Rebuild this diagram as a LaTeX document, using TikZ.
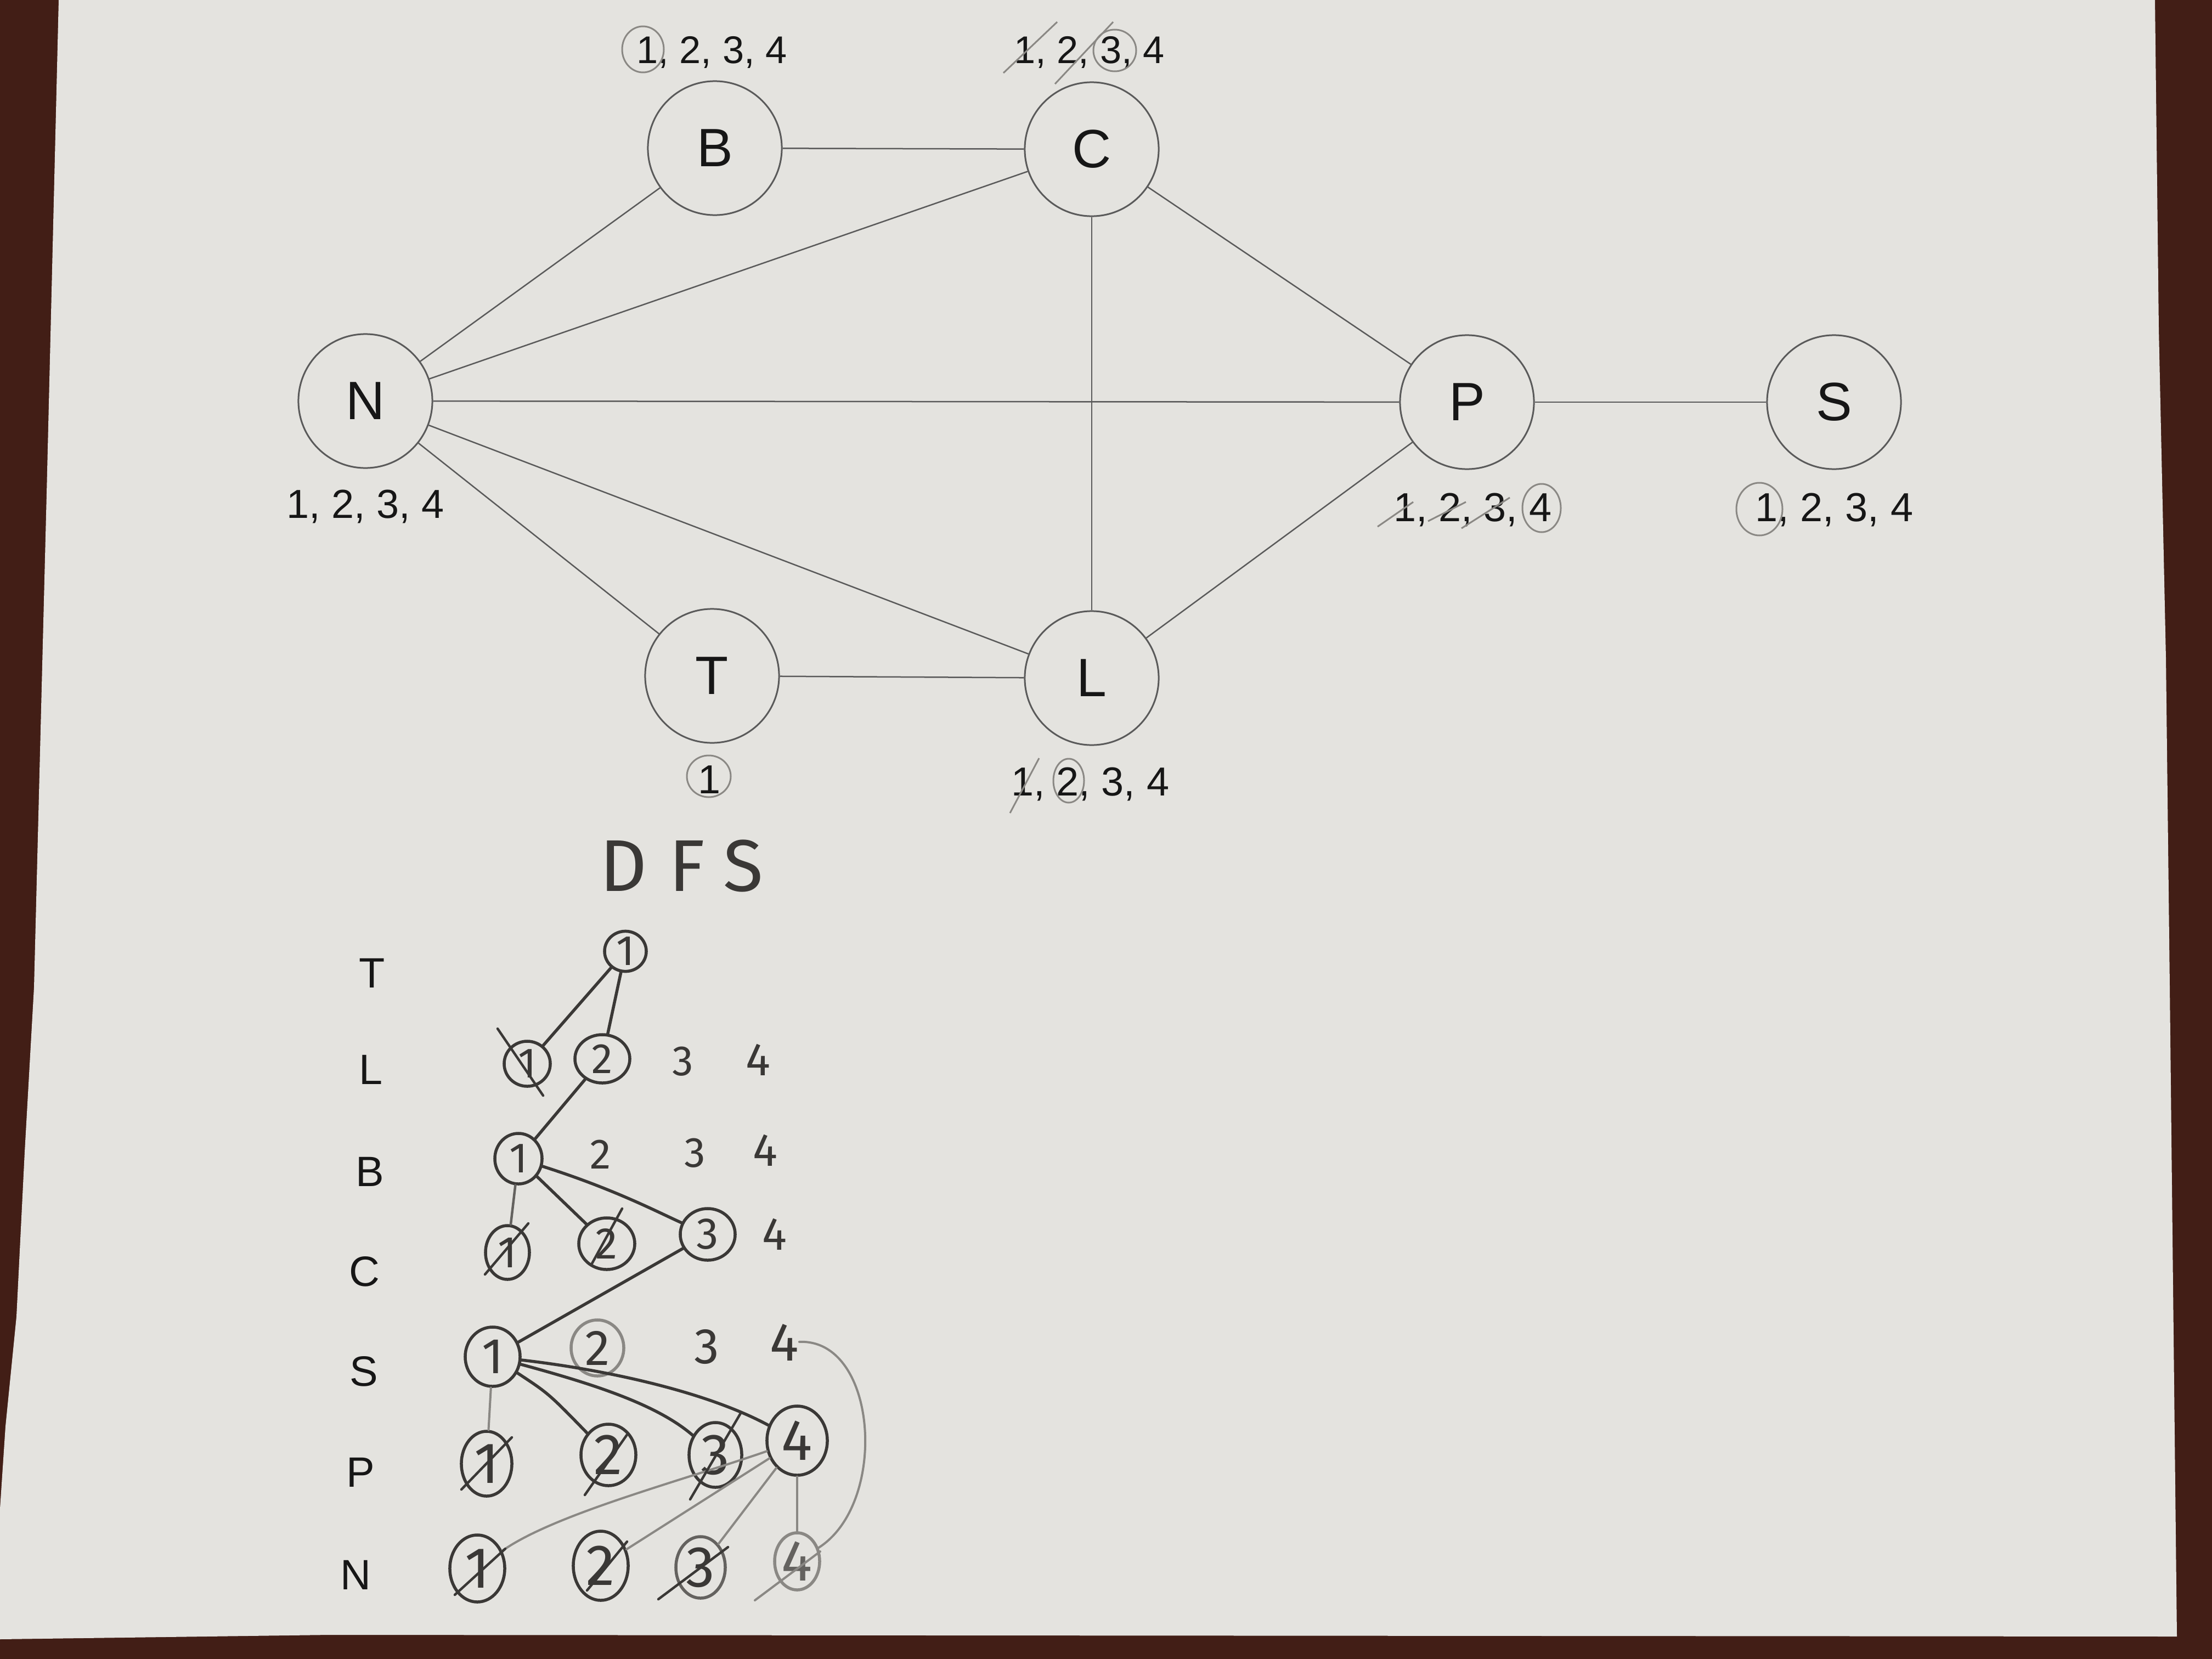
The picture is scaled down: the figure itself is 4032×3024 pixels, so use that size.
\documentclass[tikz,border=0pt]{standalone}
\usepackage{fontspec}
\setmainfont{Liberation Sans}
\newfontfamily\hand{Fira Sans}
\usetikzlibrary{shapes.geometric,calc}
\definecolor{paper}{RGB}{228,227,223}
\definecolor{bgdark}{RGB}{66,30,22}
\definecolor{ink}{RGB}{22,22,22}
\definecolor{gline}{RGB}{90,90,90}
\definecolor{pen}{RGB}{58,56,54}
\definecolor{penmid}{RGB}{100,98,95}
\definecolor{penlight}{RGB}{138,136,132}
\begin{document}
\begin{tikzpicture}[x=0.01cm,y=-0.01cm,
  gnode/.style={circle,draw=gline,line width=0.03cm,minimum size=2.44cm,inner sep=0pt,text=ink,font=\fontsize{28}{28}\selectfont},
  gedge/.style={draw=gline,line width=0.025cm},
  glab/.style={inner sep=0pt,anchor=base west,text=ink,font=\fontsize{21}{21}\selectfont},
  glabs/.style={inner sep=0pt,anchor=base west,text=ink,font=\fontsize{20}{20}\selectfont},
  ann/.style={draw=penlight,line width=0.03cm},
  rowlab/.style={inner sep=0pt,text=ink,font=\fontsize{22}{22}\selectfont},
  hn/.style 2 args={ellipse,draw=pen,line width=0.055cm,inner sep=0pt,text=pen,minimum width=#1,minimum height=#2},
  hf/.style={font=\hand\fontsize{#1}{#1}\selectfont},
  hd/.style={inner sep=0pt,text=pen},
  pline/.style={draw=pen,line width=0.055cm,line cap=round},
  mline/.style={draw=penmid,line width=0.045cm,line cap=round},
  lline/.style={draw=penlight,line width=0.04cm,line cap=round},
  xline/.style={draw=pen,line width=0.045cm,line cap=round},
]
\useasboundingbox (0,0) rectangle (4032,3024);
% background and paper
\fill[bgdark] (0,0) rectangle (4032,3024);
\fill[paper] (107,0) -- (3928,0) -- (3935,600) -- (3948,1200) -- (3955,1800) -- (3968,2983)
  -- (600,2980) -- (0,2988) -- (0,2750) -- (10,2600) -- (30,2400) -- (45,2100) -- (62,1800) -- (85,900) -- cycle;

% ---------------- printed graph ----------------
\node[gnode] (B) at (1303,270) {B};
\node[gnode] (C) at (1990,272) {C};
\node[gnode] (N) at (666,731) {N};
\node[gnode] (P) at (2674,733) {P};
\node[gnode] (S) at (3343,733) {S};
\node[gnode] (T) at (1298,1232) {T};
\node[gnode] (L) at (1990,1236) {L};

\draw[gedge] (B) -- (C);
\draw[gedge] (B) -- (N);
\draw[gedge] (C) -- (N);
\draw[gedge] (C) -- (P);
\draw[gedge] (C) -- (L);
\draw[gedge] (N) -- (P);
\draw[gedge] (P) -- (S);
\draw[gedge] (N) -- (T);
\draw[gedge] (N) -- (L);
\draw[gedge] (T) -- (L);
\draw[gedge] (L) -- (P);

% labels
\node[glabs] (Blab) at (1160,115) {1, 2, 3, 4};
\node[glabs] (Clab) at (1848,115) {1, 2, 3, 4};
\node[glab] (Nlab) at (522,944) {1, 2, 3, 4};
\node[glab] (Plab) at (2540,950) {1, 2, 3, 4};
\node[glab] (Slab) at (3199,950) {1, 2, 3, 4};
\node[glab] (Tlab) at (1272,1446) {1};
\node[glab] (Llab) at (1843,1450) {1, 2, 3, 4};

% pencil marks on labels
\draw[ann] ($(Blab.base west)+(12,-25)$) ellipse [x radius=38, y radius=42];
\draw[ann] ($(Clab.base west)+(-19,18)$) -- ($(Clab.base west)+(79,-75)$);
\draw[ann] ($(Clab.base west)+(75,38)$) -- ($(Clab.base west)+(181,-75)$);
\draw[ann] ($(Clab.base west)+(184,-23)$) ellipse [x radius=39, y radius=38];
\draw[ann] ($(Plab.base west)+(-29,10)$) -- ($(Plab.base west)+(36,-35)$);
\draw[ann] ($(Plab.base west)+(63,0)$) -- ($(Plab.base west)+(132,-35)$);
\draw[ann] ($(Plab.base west)+(124,13)$) -- ($(Plab.base west)+(212,-43)$);
\draw[ann] ($(Plab.base west)+(270,-24)$) ellipse [x radius=35, y radius=44];
\draw[ann] ($(Slab.base west)+(8,-22)$) ellipse [x radius=42, y radius=48];
\draw[ann] ($(Tlab.base west)+(20,-31)$) ellipse [x radius=40, y radius=38];
\draw[ann] ($(Llab.base west)+(-2,32)$) -- ($(Llab.base west)+(51,-68)$);
\draw[ann] ($(Llab.base west)+(105,-27)$) ellipse [x radius=28, y radius=40];

% ---------------- handwritten DFS ----------------
\node[hd,hf=38] (dfs) at (1242,1578) {D\hspace{0.3em}F\hspace{0.25em}S};

% row labels
\node[rowlab] (rT) at (678,1774) {T};
\node[rowlab] (rL) at (676,1950) {L};
\node[rowlab] (rB) at (674,2136) {B};
\node[rowlab] (rC) at (664,2318) {C};
\node[rowlab] (rS) at (663,2500) {S};
\node[rowlab] (rP) at (657,2684) {P};
\node[rowlab] (rN) at (648,2871) {N};

% tree nodes
\node[hn={0.76cm}{0.68cm},hf=22] (T1) at (1140,1734) {1};
\node[hn={0.84cm}{0.82cm},hf=22] (L1) at (961,1939) {1};
\node[hn={1.0cm}{0.88cm},hf=22] (L2) at (1098,1930) {2};
\node[hd,hf=22] (L3) at (1245,1935) {3};
\node[hd,hf=24] (L4) at (1382,1932) {4};
\node[hn={0.86cm}{0.92cm},hf=22] (B1) at (945,2112) {1};
\node[hd,hf=22] (B2) at (1095,2104) {2};
\node[hd,hf=22] (B3) at (1267,2102) {3};
\node[hd,hf=24] (B4) at (1395,2097) {4};
\node[hn={0.80cm}{0.98cm},hf=23] (C1) at (925,2283) {1};
\node[hn={1.02cm}{0.94cm},hf=23] (C2) at (1106,2267) {2};
\node[hn={1.0cm}{0.94cm},hf=23] (C3) at (1290,2250) {3};
\node[hd,hf=24] (C4) at (1412,2250) {4};
\node[hn={1.0cm}{1.08cm},hf=26] (S1) at (898,2473) {1};
\node[hn={0.96cm}{1.02cm},hf=26,draw=penlight] (S2) at (1089,2457) {2};
\node[hd,hf=26] (S3) at (1288,2455) {3};
\node[hd,hf=28] (S4) at (1430,2447) {4};
\node[hn={0.92cm}{1.18cm},hf=30] (P1) at (887,2668) {1};
\node[hn={1.0cm}{1.12cm},hf=30] (P2) at (1109,2652) {2};
\node[hn={0.96cm}{1.18cm},hf=30] (P3) at (1304,2652) {3};
\node[hn={1.1cm}{1.26cm},hf=30] (P4) at (1453,2626) {4};
\node[hn={1.0cm}{1.22cm},hf=30] (N1) at (870,2859) {1};
\node[hn={1.0cm}{1.26cm},hf=30] (N2) at (1095,2854) {2};
\node[hn={0.9cm}{1.12cm},hf=30,draw=penmid] (N3) at (1277,2857) {3};
\node[hn={0.82cm}{1.04cm},hf=30,draw=penlight,text=penmid] (N4) at (1453,2846) {4};

% tree connectors
\draw[pline] (T1) -- (L1);
\draw[pline] (T1) -- (L2);
\draw[pline] (L2) -- (B1);
\draw[mline] (B1) -- (C1);
\draw[pline] (B1) -- (C2);
\draw[pline] (B1) .. controls (1121,2168) and (1200,2210) .. (C3);
\draw[pline] (C3) -- (S1);
\draw[lline] (S1) -- (P1);
\draw[pline] (S1) .. controls (1000,2540) .. (P2);
\draw[pline] (S1) .. controls (1090,2525) and (1200,2562) .. (P3);
\draw[pline] (S1) .. controls (1090,2495) and (1280,2533) .. (P4);
\draw[lline] (P4) .. controls (1240,2700) and (1010,2760) .. (N1);
\draw[lline] (P4) -- (N2);
\draw[lline] (P4) -- (N3);
\draw[lline] (P4) -- (N4);
\draw[lline] (S4) .. controls (1600,2440) and (1620,2740) .. (N4);

% cross-outs
\draw[xline] ($(L1)+(-54,-64)$) -- ($(L1)+(29,58)$);
\draw[xline] ($(C1)+(-41,40)$) -- ($(C1)+(38,-53)$);
\draw[xline] ($(C2)+(-28,38)$) -- ($(C2)+(28,-64)$);
\draw[xline] ($(P1)+(-46,47)$) -- ($(P1)+(46,-48)$);
\draw[xline] ($(P2)+(-43,73)$) -- ($(P2)+(34,-37)$);
\draw[xline] ($(P3)+(-46,81)$) -- ($(P3)+(46,-76)$);
\draw[xline] ($(N1)+(-41,48)$) -- ($(N1)+(51,-36)$);
\draw[xline] ($(N2)+(-25,45)$) -- ($(N2)+(48,-44)$);
\draw[xline] ($(N3)+(-77,58)$) -- ($(N3)+(50,-37)$);
\draw[lline] ($(N4)+(-77,71)$) -- ($(N4)+(42,-18)$);
\end{tikzpicture}
\end{document}
